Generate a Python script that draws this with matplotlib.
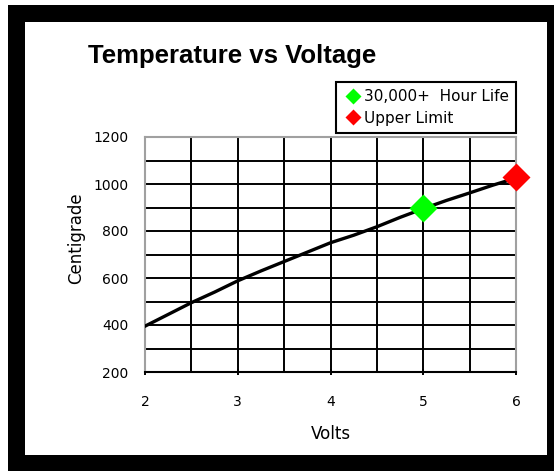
import matplotlib.pyplot as plt
from matplotlib.patches import Rectangle
from matplotlib.ticker import MultipleLocator

plt.rcParams['font.family'] = ['DejaVu Sans']

# data
volts = [2, 2.25, 2.5, 2.75, 3, 3.25, 3.5, 3.75, 4, 4.25, 4.5, 4.75, 5, 5.25, 5.5, 5.75, 6]
temps = [395, 445, 495, 540, 588, 630, 670, 710, 750, 782, 818, 858, 895, 930, 962, 995, 1025]
life_v = [5]
life_t = [900]
limit_v = [6]
limit_t = [1030]

fig = plt.figure(figsize=(5.54, 4.71), dpi=100)
fig.patch.set_facecolor('white')

# black frame with white panel
fig.add_artist(Rectangle((8 / 554, 0), 1 - 8 / 554, 1 - 5 / 471, transform=fig.transFigure,
                         facecolor='black', edgecolor='none', zorder=-2))
fig.add_artist(Rectangle((25 / 554, 1 - 455 / 471), (547 - 25) / 554, (455 - 22) / 471,
                         transform=fig.transFigure, facecolor='white', edgecolor='none', zorder=-1))

ax = fig.add_axes([145 / 554, 1 - 372 / 471, (516 - 145) / 554, (372 - 137) / 471])
ax.set_facecolor('white')

ax.plot(volts, temps, color='black', lw=2.4, zorder=3)
ax.plot(life_v, life_t, 'D', color='#00ff00', ms=14, mec='none', zorder=4,
        clip_on=False, label='30,000+  Hour Life')
ax.plot(limit_v, limit_t, 'D', color='#ff0000', ms=14, mec='none', zorder=4,
        clip_on=False, label='Upper Limit')

ax.set_xlim(2, 6)
ax.set_ylim(200, 1200)
ax.xaxis.set_major_locator(MultipleLocator(1))
ax.xaxis.set_minor_locator(MultipleLocator(0.5))
ax.yaxis.set_major_locator(MultipleLocator(200))
ax.yaxis.set_minor_locator(MultipleLocator(100))
ax.grid(which='both', color='black', lw=1.4, zorder=1)
ax.set_axisbelow(True)

for side in ['left', 'right', 'top']:
    ax.spines[side].set_color('#a0a0a0')
    ax.spines[side].set_linewidth(1.5)
ax.spines['bottom'].set_color('black')
ax.spines['bottom'].set_linewidth(1.5)

ax.tick_params(axis='x', which='major', length=5, width=1.4, direction='inout',
               labelsize=10, pad=14)
ax.tick_params(axis='x', which='minor', length=0)
ax.tick_params(axis='y', which='both', length=0, labelsize=10, pad=12)

ax.set_xlabel('Volts', fontsize=12)
ax.set_ylabel('Centigrade', fontsize=12)
ax.xaxis.set_label_coords(0.5, -(434 - 372) / 235, transform=ax.transAxes)
ax.yaxis.set_label_coords(-(145 - 76) / 371, (372 - 238) / 235, transform=ax.transAxes)
ax.xaxis.label.set_va('center')
ax.yaxis.label.set_va('center')

fig.text(88 / 554, 1 - 63 / 471, 'Temperature vs Voltage', fontsize=18.5,
         family='Liberation Sans', fontweight='bold', ha='left', va='baseline')

leg = ax.legend(loc='upper right', bbox_to_anchor=(1.0, (372 - 82) / 235), borderaxespad=0,
                fancybox=False, edgecolor='black', fontsize=11, markerscale=0.55,
                handlelength=1.3, handletextpad=0.1, borderpad=0.45, labelspacing=0.45,
                framealpha=1)
leg.get_frame().set_linewidth(1.5)

fig.savefig('out.png', dpi=100)
